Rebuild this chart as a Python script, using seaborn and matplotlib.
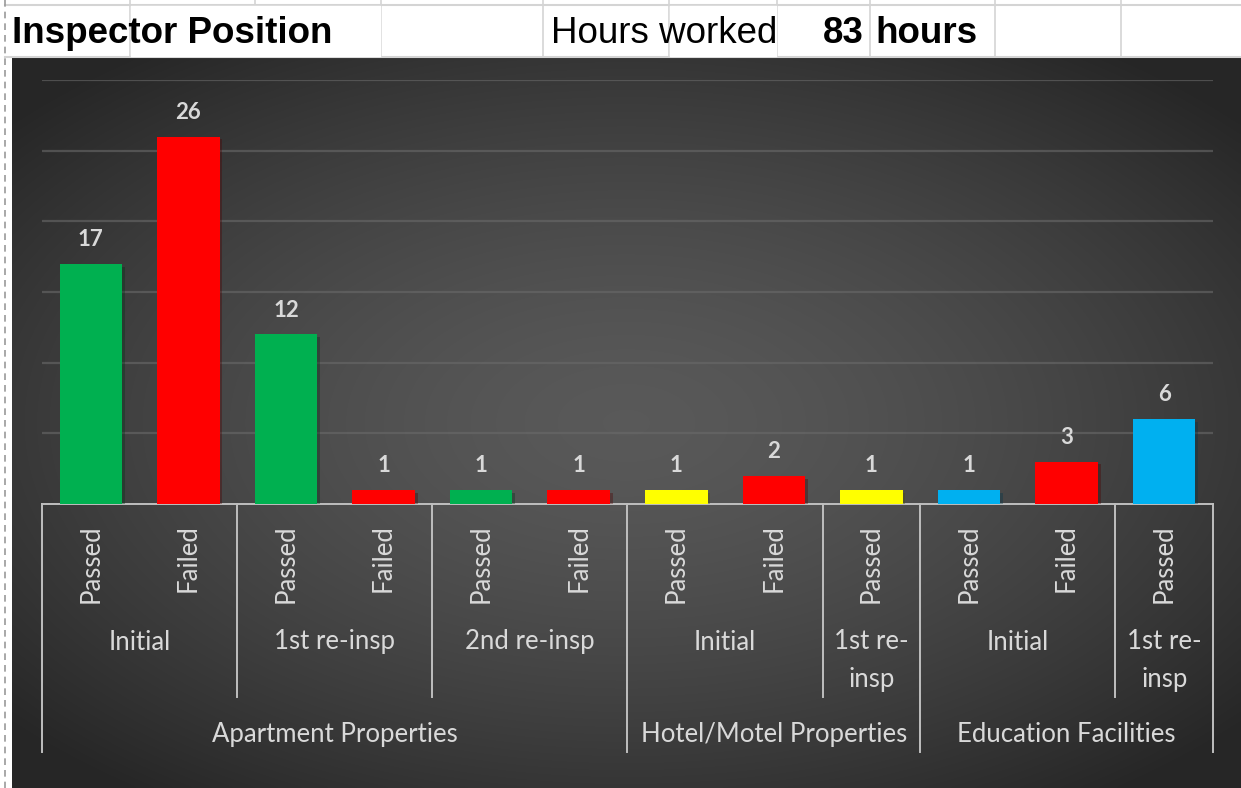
import numpy as np
import pandas as pd
import seaborn as sns
import matplotlib.pyplot as plt
from matplotlib import patheffects as pe
from matplotlib.lines import Line2D

# ---- data ----
outcomes = ["Passed", "Failed", "Passed", "Failed", "Passed", "Failed",
            "Passed", "Failed", "Passed", "Passed", "Failed", "Passed"]
counts = [17, 26, 12, 1, 1, 1, 1, 2, 1, 1, 3, 6]
bar_colors = ["#00b050", "#ff0000", "#00b050", "#ff0000", "#00b050", "#ff0000",
              "#ffff00", "#ff0000", "#ffff00", "#00b0f0", "#ff0000", "#00b0f0"]
# (label, first slot, last slot)
stages = [("Initial", 0, 1), ("1st re-insp", 2, 3), ("2nd re-insp", 4, 5),
          ("Initial", 6, 7), ("1st re-\ninsp", 8, 8), ("Initial", 9, 10),
          ("1st re-\ninsp", 11, 11)]
property_types = [("Apartment Properties", 0, 5), ("Hotel/Motel Properties", 6, 8),
                  ("Education Facilities", 9, 11)]
hours_worked = 83

df = pd.DataFrame({"slot": [str(i) for i in range(len(counts))],
                   "count": counts, "outcome": outcomes})

W, H = 1241, 788
fig = plt.figure(figsize=(W / 100, H / 100), dpi=100)
fig.patch.set_facecolor("white")

def fx(px):
    return px / W

def fy(py):
    return 1 - py / H

# ---- chart background: dark radial gradient ----
bg = fig.add_axes([fx(12), fy(788), fx(1241 - 12), (788 - 58) / H], zorder=0)
gx, gy = np.meshgrid(np.linspace(-1, 1, 400), np.linspace(-1, 1, 300))
r = np.sqrt(gx ** 2 + (gy * 1.05) ** 2)
shade = np.clip(0.35 - 0.13 * r ** 1.5, 0.15, 0.35)
bg.imshow(np.dstack([shade, shade, shade]), aspect="auto", extent=[0, 1, 0, 1],
          interpolation="bicubic")
bg.axis("off")

# ---- spreadsheet header row ----
hdr = fig.add_axes([0, 0, 1, 1], zorder=1)
hdr.set_xlim(0, W)
hdr.set_ylim(H, 0)
hdr.axis("off")
grid_c = "#d4d4d4"
for y in (5, 57):
    hdr.plot([5, W], [y, y], color=grid_c, lw=1.5)
for x in (130, 255, 381, 543, 669, 777, 870, 995, 1121):
    hdr.plot([x, x], [0, 57], color=grid_c, lw=1.2)
hdr.plot([5, 5], [0, H], color="#9a9a9a", lw=1.2, ls=(0, (4, 3)))
hdr.fill_between([131, 380], 6, 56, color="white", zorder=2)
hdr.fill_between([670, 776], 6, 56, color="white", zorder=2)
hfont = "Liberation Sans"
hsize = 26.5
hdr.text(12, 33, "Inspector Position", fontsize=hsize, fontweight="bold",
         family=hfont, va="center", ha="left", zorder=3)
hdr.text(551, 33, "Hours worked", fontsize=hsize, family=hfont,
         va="center", ha="left", zorder=3)
hdr.text(864, 33, str(hours_worked), fontsize=hsize, fontweight="bold",
         family=hfont, va="center", ha="right", zorder=3)
hdr.text(875, 33, "hours", fontsize=hsize, fontweight="bold",
         family=hfont, va="center", ha="left", zorder=3)

# ---- bar chart ----
ax = fig.add_axes([fx(42), fy(504), fx(1213 - 42), (504 - 80) / H], zorder=2)
ax.patch.set_alpha(0)
sns.barplot(data=df, x="slot", y="count", hue="slot", palette=bar_colors,
            legend=False, width=0.64, saturation=1, ax=ax, zorder=3)
for p in ax.patches:
    p.set_path_effects([pe.SimplePatchShadow(offset=(2, -2), alpha=0.35),
                        pe.Normal()])

ax.set_ylim(0, 30)
ax.set_xlim(-0.5, len(counts) - 0.5)
ax.set_yticks(range(5, 31, 5))
ax.grid(axis="y", color="#6a6a6a", lw=1.6, alpha=0.6, zorder=0)
ax.set_axisbelow(True)
ax.tick_params(left=False, bottom=False, labelleft=False, labelbottom=False)
for s in ax.spines.values():
    s.set_visible(False)
ax.set_xlabel("")
ax.set_ylabel("")

txt_c = "#d9d9d9"
font = "Lato"
fsize = 18.5
for i, v in enumerate(counts):
    ax.annotate(str(v), (i, v), xytext=(0, 10), textcoords="offset points",
                ha="center", va="bottom", color=txt_c, fontsize=16,
                fontweight="bold", family=font)

# ---- hierarchical category axis ----
axis_c = "#bfbfbf"
trans = ax.get_xaxis_transform()

def ya(py):
    # pixel row to axes fraction relative to the bar axes
    return (504 - py) / (504 - 80)

ax.add_line(Line2D([-0.5, len(counts) - 0.5], [0, 0], transform=trans,
                   color=axis_c, lw=1.4, clip_on=False))
outer = {p[1] - 0.5 for p in property_types} | {property_types[-1][2] + 0.5}
inner = {s[1] - 0.5 for s in stages} - outer
for x in sorted(outer):
    ax.add_line(Line2D([x, x], [0, ya(752)], transform=trans, color=axis_c,
                       lw=1.4, clip_on=False))
for x in sorted(inner):
    ax.add_line(Line2D([x, x], [0, ya(697)], transform=trans, color=axis_c,
                       lw=1.4, clip_on=False))

for i, lab in enumerate(outcomes):
    ax.text(i, ya(524), lab, transform=trans, rotation=90, ha="center",
            va="top", color=txt_c, fontsize=fsize, family=font)
for lab, a, b in stages:
    if "\n" in lab:
        ax.text((a + b) / 2, ya(629), lab, transform=trans, ha="center",
                va="top", color=txt_c, fontsize=fsize, family=font,
                linespacing=1.65)
    else:
        ax.text((a + b) / 2, ya(642), lab, transform=trans, ha="center",
                va="center", color=txt_c, fontsize=fsize, family=font)
for lab, a, b in property_types:
    ax.text((a + b) / 2, ya(735), lab, transform=trans, ha="center",
            va="center", color=txt_c, fontsize=fsize, family=font)

fig.savefig("out.png", dpi=100)
